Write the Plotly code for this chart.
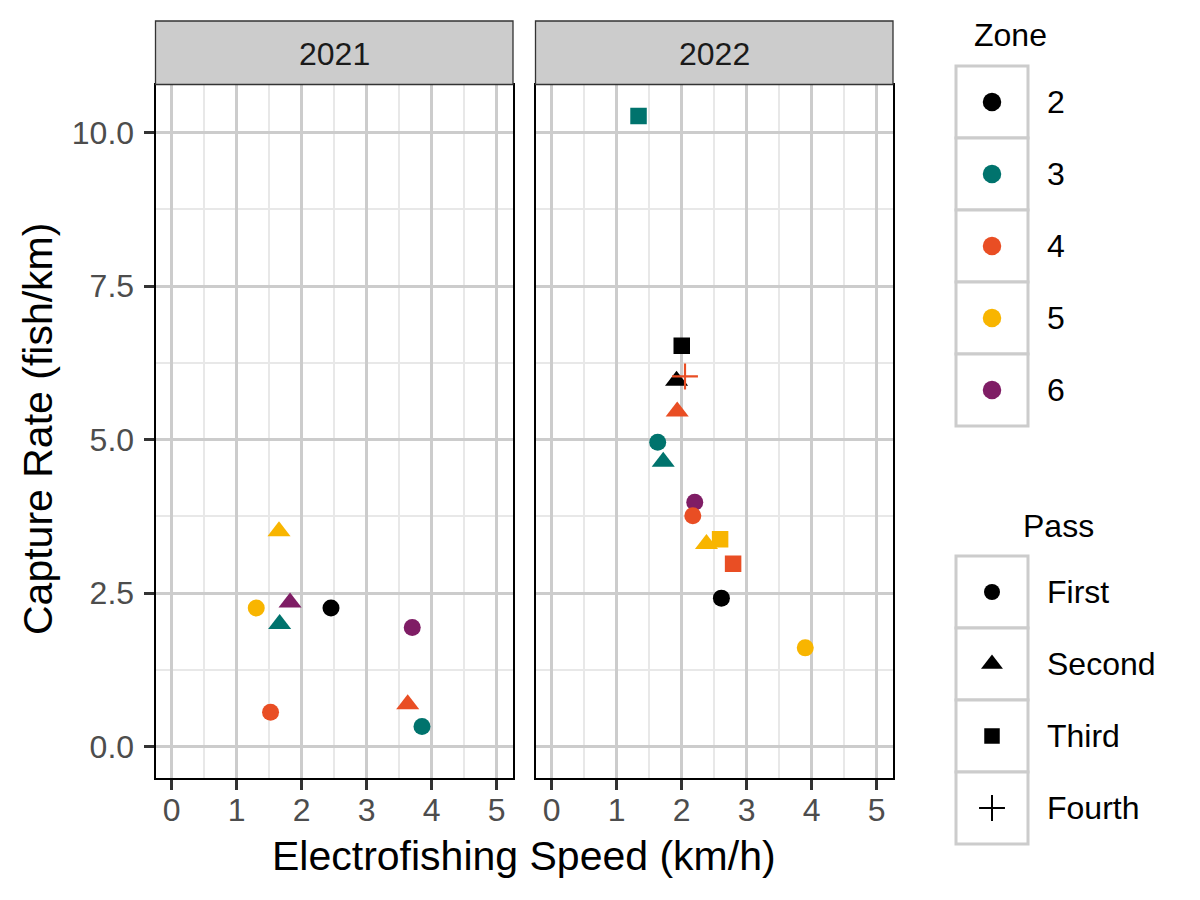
import plotly.graph_objects as go

# ---------------- data ----------------
facet_years = [2021, 2022]

year = [2021, 2021, 2021, 2021, 2021, 2021, 2021, 2021, 2021,
        2022, 2022, 2022, 2022, 2022, 2022, 2022, 2022, 2022, 2022, 2022, 2022, 2022, 2022]
zone = ["5", "5", "6", "3", "2", "6", "4", "4", "3",
        "3", "3", "3", "2", "2", "4", "4", "6", "4", "5", "5", "4", "2", "5"]
pass_ = ["Second", "First", "Second", "Second", "First", "First", "First", "Second", "First",
         "Third", "First", "Second", "Second", "Third", "Second", "Fourth", "First", "First",
         "Third", "Second", "Third", "First", "First"]
speed = [1.65, 1.30, 1.82, 1.66, 2.45, 3.70, 1.52, 3.63, 3.85,
         1.335, 1.63, 1.715, 1.92, 2.00, 1.93, 2.05, 2.20, 2.17, 2.59, 2.38, 2.79, 2.61, 3.90]
rate = [3.51, 2.26, 2.35, 2.00, 2.26, 1.94, 0.56, 0.69, 0.33,
        10.27, 4.96, 4.64, 5.96, 6.53, 5.46, 6.03, 3.98, 3.76, 3.38, 3.30, 2.98, 2.42, 1.61]

zone_levels = ["2", "3", "4", "5", "6"]
zone_colors = ["#000000", "#00736D", "#E94E24", "#F8B500", "#7F1D65"]
pass_levels = ["First", "Second", "Third", "Fourth"]
pass_symbols = ["circle", "triangle-up", "square", "cross-thin"]
pass_sizes = [17, 20, 16.5, 18.5]
pass_key_sizes = [16, 19, 15.5, 18.5]

x_ticks = [0, 1, 2, 3, 4, 5]
y_ticks = [0, 2.5, 5.0, 7.5, 10.0]

# ---------------- style ----------------
FONT = "Liberation Sans, Arial, sans-serif"
W, H = 1200, 900
panels_px = [(155.5, 513.0), (535.5, 893.0)]
panel_top, panel_bot = 84.5, 778.3
strip_top = 21.0

color_map = dict(zip(zone_levels, zone_colors))
sym_map = dict(zip(pass_levels, pass_symbols))
size_map = dict(zip(pass_levels, pass_sizes))

fig = go.Figure()

for i, yr in enumerate(facet_years):
    idx = [k for k in range(len(year)) if year[k] == yr]
    cols = [color_map[zone[k]] for k in idx]
    fig.add_trace(go.Scatter(
        x=[speed[k] for k in idx], y=[rate[k] for k in idx],
        mode="markers",
        xaxis="x" if i == 0 else "x2", yaxis="y" if i == 0 else "y2",
        marker=dict(
            color=cols,
            symbol=[sym_map[pass_[k]] for k in idx],
            size=[size_map[pass_[k]] for k in idx],
            line=dict(color=cols, width=[2.2 if pass_[k] == "Fourth" else 0 for k in idx]),
            opacity=1,
        ),
        showlegend=False, hoverinfo="skip",
    ))

axis_common = dict(
    ticks="outside", ticklen=10, tickwidth=2.5, tickcolor="#333333",
    tickfont=dict(size=32, color="#4D4D4D", family=FONT),
    showline=True, linecolor="black", linewidth=2, mirror=True,
    showgrid=True, gridcolor="#CCCCCC", gridwidth=3.2, zeroline=False,
)

layout = dict(
    width=W, height=H, margin=dict(l=0, r=0, t=0, b=0),
    paper_bgcolor="white", plot_bgcolor="white",
    font=dict(family=FONT, color="black"),
    showlegend=False,
)

ydom = [1 - panel_bot / H, 1 - panel_top / H]
for i, (l, r) in enumerate(panels_px):
    xa = dict(axis_common, domain=[l / W, r / W], range=[-0.25, 5.25],
              tickmode="linear", tick0=0, dtick=1, ticklabelstandoff=-8,
              minor=dict(dtick=0.5, tick0=0, showgrid=True, gridcolor="#E8E8E8", gridwidth=1.6),
              anchor="y" if i == 0 else "y2")
    ya = dict(axis_common, domain=ydom, range=[-0.514, 10.784], ticklabelstandoff=3,
              tickmode="array", tickvals=y_ticks, ticktext=[f"{v:.1f}" for v in y_ticks],
              minor=dict(tickmode="array", tickvals=[1.25, 3.75, 6.25, 8.75],
                         showgrid=True, gridcolor="#E8E8E8", gridwidth=1.6),
              anchor="x" if i == 0 else "x2",
              showticklabels=(i == 0))
    if i == 1:
        ya["matches"] = "y"
        ya["ticks"] = ""
    layout["xaxis" if i == 0 else "xaxis2"] = xa
    layout["yaxis" if i == 0 else "yaxis2"] = ya

# legend subplot (pixel coordinates)
LX0 = 936
layout["xaxis3"] = dict(domain=[LX0 / W, 1], range=[LX0, W], visible=False,
                        showgrid=False, zeroline=False, anchor="y3", fixedrange=True)
layout["yaxis3"] = dict(domain=[0, 1], range=[H, 0], visible=False,
                        showgrid=False, zeroline=False, anchor="x3", fixedrange=True)

fig.update_layout(**layout)

shapes = []
annotations = []

# strips
for (l, r), yr in zip(panels_px, facet_years):
    shapes.append(dict(type="rect", xref="paper", yref="paper",
                       x0=l / W, x1=r / W, y0=1 - panel_top / H, y1=1 - strip_top / H,
                       fillcolor="#CCCCCC", line=dict(color="#333333", width=1.3), layer="above"))
    annotations.append(dict(text=str(yr), xref="paper", yref="paper",
                            x=(l + r) / 2 / W, y=1 - (strip_top + panel_top + 2) / 2 / H,
                            xanchor="center", yanchor="middle", showarrow=False,
                            font=dict(size=32, color="#1A1A1A", family=FONT)))

# axis titles
annotations.append(dict(text="Electrofishing Speed (km/h)", xref="paper", yref="paper",
                        x=(panels_px[0][0] + panels_px[1][1]) / 2 / W, y=1 - 856 / H,
                        xanchor="center", yanchor="middle", showarrow=False,
                        font=dict(size=41, color="black", family=FONT)))
annotations.append(dict(text="Capture Rate (fish/km)", xref="paper", yref="paper",
                        x=38 / W, y=1 - 429 / H, textangle=-90,
                        xanchor="center", yanchor="middle", showarrow=False,
                        font=dict(size=41, color="black", family=FONT)))

# legend keys
KX0, KX1 = 956, 1028
KEY = 72
LBLX = 1045


def legend_block(title, title_x, title_y, top, labels, colors, symbols, sizes, line_w):
    annotations.append(dict(text=title, xref="x3", yref="y3", x=title_x, y=title_y,
                            xanchor="center", yanchor="middle", showarrow=False,
                            font=dict(size=32, color="black", family=FONT)))
    xs, ys = [], []
    for j, lab in enumerate(labels):
        y0 = top + j * KEY
        shapes.append(dict(type="rect", xref="x3", yref="y3", x0=KX0, x1=KX1,
                           y0=y0, y1=y0 + KEY, fillcolor="white",
                           line=dict(color="#CCCCCC", width=3), layer="below"))
        annotations.append(dict(text=lab, xref="x3", yref="y3", x=LBLX, y=y0 + KEY / 2,
                                xanchor="left", yanchor="middle", showarrow=False,
                                font=dict(size=32, color="black", family=FONT)))
        xs.append((KX0 + KX1) / 2)
        ys.append(y0 + KEY / 2)
    fig.add_trace(go.Scatter(x=xs, y=ys, xaxis="x3", yaxis="y3", mode="markers",
                             marker=dict(color=colors, symbol=symbols, size=sizes, opacity=1,
                                         line=dict(color=colors, width=line_w)),
                             showlegend=False, hoverinfo="skip"))


legend_block("Zone", 1010, 35, 66, zone_levels, zone_colors,
             ["circle"] * len(zone_levels), [18.5] * len(zone_levels), 0)
legend_block("Pass", 1058, 526, 556, pass_levels, ["#000000"] * len(pass_levels),
             pass_symbols, pass_key_sizes,
             [2 if s == "cross-thin" else 0 for s in pass_symbols])

fig.update_layout(shapes=shapes, annotations=annotations)
fig.write_html("out.html", config={"displayModeBar": False},
               post_script="document.body.style.margin='0px';document.body.style.padding='0px';document.body.style.overflow='hidden';")
